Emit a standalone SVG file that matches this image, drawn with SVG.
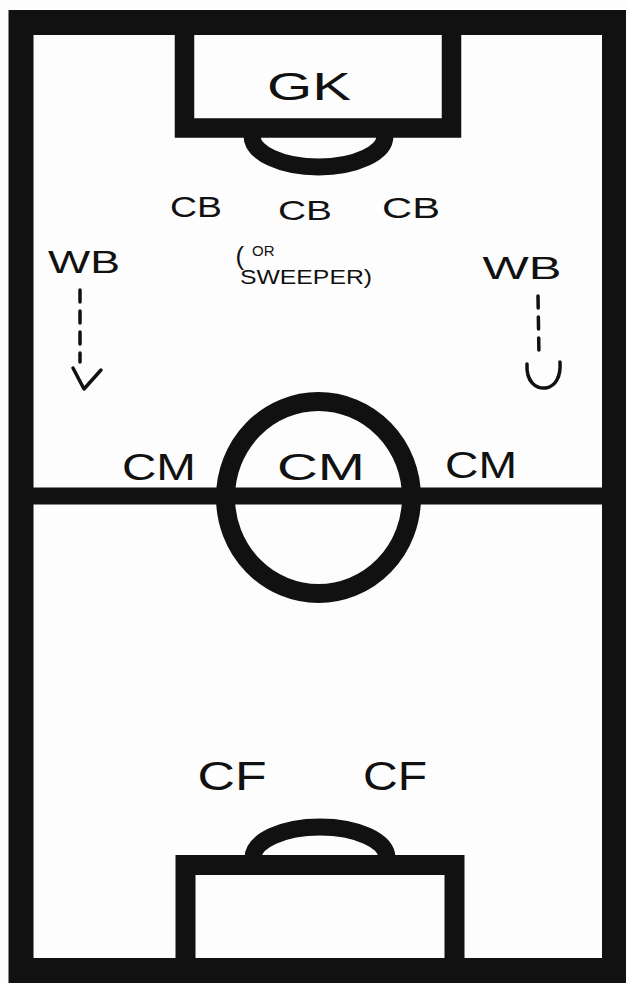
<svg xmlns="http://www.w3.org/2000/svg" width="626" height="983" viewBox="0 0 626 983">
<style>
.line{fill:none;stroke:#111;stroke-linejoin:miter}
.lbl{font-family:"Liberation Sans","DejaVu Sans",sans-serif;fill:#111;text-anchor:middle}
.dash{fill:none;stroke:#111;stroke-width:3.5;stroke-linecap:round;stroke-dasharray:12 9}
.head{fill:none;stroke:#111;stroke-width:3.5;stroke-linecap:round;stroke-linejoin:round}
</style>
<rect width="626" height="983" fill="#fdfdfd"/>
<g id="pitch">
<rect class="line" x="21" y="22.5" width="593.5" height="948" stroke-width="25"/>
<line class="line" x1="30" y1="496" x2="606" y2="496" stroke-width="17"/>
<ellipse class="line" cx="318.5" cy="497.5" rx="93" ry="96" stroke-width="19"/>
<path class="line" d="M184.5 30 V128 H451.5 V30" stroke-width="19.5"/>
<path class="line" d="M252 136 A66.5 31 0 0 0 385 136" stroke-width="17"/>
<path class="line" d="M185.5 965 V865 H454.5 V965" stroke-width="20"/>
<path class="line" d="M253 858 A67 31 0 0 1 387 858" stroke-width="17"/>
</g>
<g id="gk"><text class="lbl" x="309" y="100" font-size="38" textLength="84" lengthAdjust="spacingAndGlyphs">GK</text></g>
<g id="cb-left"><text class="lbl" x="196" y="217" font-size="30" textLength="52" lengthAdjust="spacingAndGlyphs">CB</text></g>
<g id="cb-centre">
<text class="lbl" x="305" y="220" font-size="28" textLength="54" lengthAdjust="spacingAndGlyphs">CB</text>
<text class="lbl" x="255" y="265" font-size="26" text-anchor="start"><tspan>(</tspan><tspan font-size="15" dx="8" dy="-9">OR</tspan></text>
<text class="lbl" x="306" y="284" font-size="21" textLength="132" lengthAdjust="spacingAndGlyphs">SWEEPER)</text>
</g>
<g id="cb-right"><text class="lbl" x="411" y="218" font-size="30" textLength="58" lengthAdjust="spacingAndGlyphs">CB</text></g>
<g id="wb-left"><text class="lbl" x="84" y="273" font-size="31" textLength="72" lengthAdjust="spacingAndGlyphs">WB</text></g>
<g id="wb-right"><text class="lbl" x="522" y="279" font-size="32" textLength="79" lengthAdjust="spacingAndGlyphs">WB</text></g>
<g id="cm-left"><text class="lbl" x="159" y="480" font-size="37" textLength="74" lengthAdjust="spacingAndGlyphs">CM</text></g>
<g id="cm-centre"><text class="lbl" x="321" y="480" font-size="37" textLength="88" lengthAdjust="spacingAndGlyphs">CM</text></g>
<g id="cm-right"><text class="lbl" x="481" y="478" font-size="37" textLength="72" lengthAdjust="spacingAndGlyphs">CM</text></g>
<g id="cf-left"><text class="lbl" x="232" y="790" font-size="40" textLength="69" lengthAdjust="spacingAndGlyphs">CF</text></g>
<g id="cf-right"><text class="lbl" x="395" y="790" font-size="40" textLength="64" lengthAdjust="spacingAndGlyphs">CF</text></g>
<g id="connectors">
<line class="dash" x1="80" y1="290" x2="80" y2="362"/>
<path class="head" d="M73 368 L84 389 L101 370"/>
<line class="dash" x1="538" y1="296" x2="539" y2="357"/>
<path class="head" d="M527 364 C526 382 536 389 546 388 C556 386 561 376 560 362"/>
</g>
</svg>
